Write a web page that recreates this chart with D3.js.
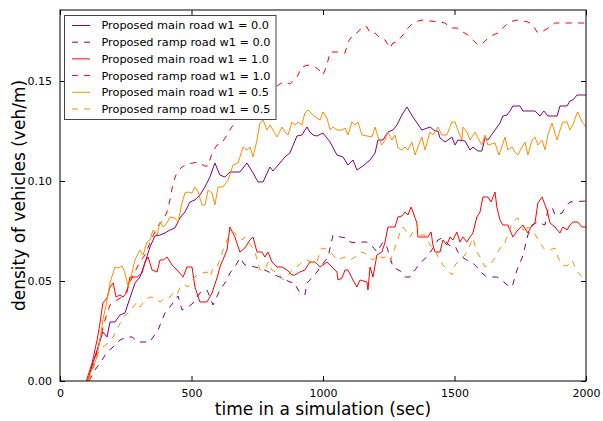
<!DOCTYPE html>
<html>
<head>
<meta charset="utf-8">
<script src="https://cdn.jsdelivr.net/npm/d3@7"></script>
<style>
  html, body { margin: 0; padding: 0; background: #fff; }
  svg { display: block; font-family: "DejaVu Sans", sans-serif; }
</style>
</head>
<body>
<svg id="chart" width="603" height="421"></svg>
<script>
// Vehicle density over simulation time: [time (sec), density (veh/m)]
const mainW00 = [[105,0.000],[125,0.009],[163,0.0245],[179,0.022],[190,0.0295],[209,0.0295],[228,0.033],[247,0.034],[266,0.0415],[285,0.049],[304,0.052],[323,0.059],[342,0.067],[361,0.0725],[380,0.073],[399,0.074],[418,0.0755],[437,0.0765],[456,0.0815],[475,0.0845],[494,0.0895],[513,0.0905],[532,0.093],[551,0.097],[570,0.102],[589,0.109],[608,0.103],[627,0.102],[646,0.1045],[684,0.1045],[711,0.109],[734,0.104],[753,0.0995],[772,0.0995],[798,0.107],[810,0.105],[836,0.109],[855,0.112],[874,0.114],[901,0.1225],[920,0.123],[939,0.127],[950,0.1245],[962,0.123],[977,0.1225],[1000,0.124],[1027,0.1195],[1053,0.113],[1076,0.112],[1095,0.108],[1114,0.1105],[1129,0.1055],[1152,0.1075],[1179,0.1105],[1198,0.114],[1209,0.1205],[1228,0.1205],[1247,0.1245],[1266,0.1255],[1281,0.128],[1300,0.133],[1319,0.137],[1342,0.132],[1376,0.1255],[1407,0.127],[1426,0.125],[1437,0.125],[1445,0.1215],[1464,0.1195],[1475,0.1205],[1490,0.122],[1502,0.118],[1513,0.1205],[1540,0.12],[1559,0.1155],[1570,0.117],[1589,0.115],[1604,0.115],[1616,0.1215],[1627,0.1205],[1646,0.124],[1673,0.129],[1684,0.1325],[1700,0.133],[1711,0.135],[1722,0.1375],[1749,0.1375],[1760,0.135],[1806,0.135],[1825,0.1325],[1840,0.135],[1855,0.1325],[1890,0.1325],[1901,0.1375],[1928,0.1375],[1939,0.14],[1950,0.1405],[1966,0.143],[2000,0.143]];

const rampW00 = [[110,0.000],[133,0.0055],[160,0.0105],[179,0.0145],[202,0.017],[228,0.0205],[255,0.022],[274,0.022],[297,0.0195],[342,0.0195],[354,0.022],[373,0.0255],[388,0.0305],[399,0.034],[418,0.037],[437,0.0405],[449,0.0425],[464,0.0355],[487,0.037],[506,0.039],[532,0.044],[559,0.0455],[582,0.038],[608,0.0455],[635,0.0505],[646,0.054],[665,0.057],[684,0.0615],[703,0.058],[741,0.057],[779,0.0555],[817,0.053],[844,0.0515],[874,0.0495],[893,0.049],[905,0.0455],[931,0.043],[939,0.049],[950,0.0505],[977,0.0545],[996,0.058],[1019,0.062],[1038,0.073],[1065,0.072],[1091,0.0715],[1103,0.0695],[1129,0.069],[1148,0.0695],[1167,0.0695],[1190,0.067],[1205,0.0645],[1228,0.0695],[1243,0.067],[1266,0.057],[1300,0.0545],[1312,0.052],[1331,0.052],[1350,0.0555],[1369,0.059],[1395,0.062],[1414,0.0655],[1437,0.0705],[1452,0.0715],[1483,0.0675],[1502,0.0675],[1513,0.0645],[1528,0.062],[1547,0.0605],[1566,0.0595],[1585,0.057],[1604,0.054],[1623,0.052],[1661,0.052],[1680,0.0505],[1700,0.048],[1719,0.047],[1730,0.052],[1741,0.057],[1757,0.0615],[1768,0.067],[1779,0.073],[1798,0.078],[1814,0.0795],[1844,0.078],[1855,0.0855],[1871,0.087],[1882,0.083],[1909,0.084],[1920,0.0865],[1939,0.0895],[2000,0.090]];

const mainW10 = [[100,0.000],[122,0.009],[141,0.0205],[152,0.029],[163,0.039],[179,0.0415],[190,0.047],[202,0.049],[213,0.042],[228,0.043],[240,0.042],[255,0.0445],[266,0.052],[293,0.052],[312,0.054],[323,0.0595],[335,0.062],[350,0.0555],[369,0.0545],[380,0.0605],[392,0.0605],[407,0.062],[426,0.058],[445,0.0555],[468,0.052],[483,0.057],[502,0.057],[513,0.047],[532,0.0395],[559,0.0395],[578,0.044],[597,0.0515],[608,0.057],[635,0.0655],[646,0.077],[665,0.072],[684,0.0645],[703,0.0665],[722,0.0705],[734,0.072],[749,0.0645],[768,0.0645],[779,0.062],[791,0.0645],[806,0.0595],[825,0.057],[844,0.057],[863,0.0555],[882,0.053],[893,0.053],[912,0.0545],[931,0.0555],[950,0.0595],[970,0.0595],[989,0.057],[1015,0.0595],[1034,0.057],[1053,0.0545],[1057,0.0505],[1072,0.0515],[1084,0.0555],[1095,0.0555],[1114,0.0505],[1129,0.047],[1141,0.0505],[1167,0.0495],[1171,0.0455],[1179,0.057],[1190,0.052],[1205,0.063],[1224,0.0645],[1236,0.0695],[1247,0.077],[1274,0.077],[1285,0.082],[1300,0.0825],[1312,0.0845],[1323,0.083],[1335,0.087],[1342,0.0845],[1357,0.079],[1361,0.072],[1399,0.072],[1411,0.0745],[1418,0.068],[1426,0.0645],[1445,0.0645],[1456,0.0705],[1471,0.068],[1483,0.072],[1494,0.0705],[1509,0.0745],[1521,0.0695],[1532,0.072],[1547,0.0695],[1559,0.072],[1570,0.074],[1585,0.082],[1597,0.0845],[1608,0.092],[1627,0.092],[1639,0.0895],[1654,0.0945],[1661,0.087],[1673,0.0805],[1684,0.078],[1703,0.078],[1722,0.072],[1741,0.0755],[1760,0.078],[1779,0.074],[1795,0.078],[1806,0.079],[1817,0.089],[1833,0.092],[1844,0.088],[1852,0.0855],[1863,0.079],[1882,0.077],[1901,0.074],[1912,0.077],[1928,0.0755],[1939,0.078],[1950,0.0795],[1969,0.0795],[1985,0.077],[2000,0.077]];

const rampW10 = [[105,0.000],[133,0.0105],[152,0.0205],[171,0.0305],[190,0.038],[217,0.0405],[236,0.042],[255,0.0455],[278,0.053],[304,0.0595],[323,0.063],[342,0.069],[369,0.077],[392,0.0805],[407,0.0845],[418,0.0905],[430,0.099],[445,0.1045],[464,0.107],[487,0.1085],[525,0.1095],[551,0.1075],[563,0.1075],[578,0.114],[597,0.118],[616,0.119],[639,0.124],[658,0.128],[684,0.133],[703,0.138],[722,0.143],[749,0.144],[768,0.1455],[787,0.143],[806,0.1455],[825,0.1475],[848,0.1495],[874,0.1485],[901,0.152],[920,0.157],[943,0.158],[970,0.157],[989,0.155],[1000,0.153],[1015,0.158],[1027,0.1645],[1065,0.1645],[1084,0.164],[1095,0.1695],[1114,0.173],[1133,0.1745],[1152,0.1775],[1167,0.177],[1179,0.174],[1198,0.174],[1217,0.1715],[1236,0.1705],[1255,0.1665],[1266,0.169],[1281,0.1695],[1304,0.173],[1323,0.1765],[1342,0.179],[1361,0.180],[1380,0.1805],[1407,0.180],[1445,0.1795],[1464,0.179],[1483,0.1765],[1509,0.1765],[1532,0.1745],[1551,0.173],[1570,0.1705],[1589,0.168],[1608,0.169],[1627,0.1715],[1646,0.173],[1665,0.174],[1684,0.1765],[1703,0.179],[1722,0.180],[1741,0.1805],[1779,0.1795],[1798,0.178],[1814,0.1745],[1825,0.174],[1844,0.1755],[1863,0.177],[1882,0.179],[2000,0.179]];

const mainW05 = [[105,0.000],[125,0.007],[141,0.012],[163,0.0305],[179,0.0405],[190,0.049],[209,0.057],[221,0.0565],[236,0.0575],[247,0.054],[259,0.047],[270,0.052],[285,0.0605],[304,0.0655],[316,0.063],[331,0.0695],[342,0.0705],[354,0.0755],[369,0.073],[380,0.0795],[392,0.077],[407,0.079],[418,0.082],[437,0.0815],[449,0.0795],[464,0.089],[475,0.094],[487,0.0945],[502,0.094],[513,0.097],[525,0.0945],[540,0.088],[551,0.088],[563,0.0955],[578,0.094],[589,0.088],[601,0.097],[620,0.097],[639,0.1005],[658,0.108],[677,0.109],[696,0.117],[711,0.1155],[722,0.117],[734,0.112],[749,0.1205],[760,0.129],[772,0.1305],[787,0.1255],[798,0.128],[810,0.1255],[825,0.122],[844,0.127],[855,0.1245],[867,0.123],[882,0.1295],[893,0.128],[905,0.1295],[920,0.128],[931,0.134],[943,0.1355],[962,0.133],[977,0.1315],[989,0.1305],[1000,0.1345],[1015,0.1315],[1027,0.1255],[1038,0.127],[1053,0.1255],[1072,0.1255],[1084,0.1265],[1095,0.123],[1110,0.1295],[1122,0.128],[1133,0.1295],[1148,0.123],[1186,0.122],[1198,0.127],[1209,0.122],[1224,0.118],[1236,0.1205],[1247,0.1245],[1262,0.1205],[1274,0.123],[1285,0.1165],[1300,0.1155],[1312,0.117],[1323,0.1155],[1338,0.1195],[1350,0.113],[1361,0.117],[1376,0.122],[1388,0.1155],[1407,0.1245],[1418,0.123],[1437,0.127],[1452,0.123],[1471,0.123],[1490,0.1295],[1502,0.1295],[1513,0.1255],[1528,0.1205],[1532,0.127],[1547,0.1245],[1559,0.1205],[1578,0.1245],[1589,0.1215],[1604,0.118],[1616,0.123],[1627,0.118],[1654,0.119],[1669,0.113],[1680,0.117],[1692,0.122],[1703,0.1155],[1719,0.117],[1730,0.1145],[1741,0.113],[1757,0.117],[1768,0.1195],[1779,0.113],[1795,0.1205],[1806,0.122],[1817,0.118],[1833,0.1205],[1844,0.1155],[1855,0.123],[1871,0.129],[1890,0.1205],[1901,0.1255],[1912,0.1295],[1928,0.1295],[1939,0.1255],[1950,0.128],[1966,0.134],[1969,0.1345],[1985,0.1295],[2000,0.127]];

const rampW05 = [[110,0.000],[133,0.009],[144,0.014],[163,0.017],[183,0.019],[202,0.022],[221,0.027],[240,0.032],[259,0.034],[278,0.037],[293,0.0395],[304,0.037],[323,0.0405],[342,0.042],[361,0.0415],[380,0.0395],[399,0.0415],[418,0.042],[430,0.044],[445,0.043],[456,0.047],[475,0.048],[487,0.047],[502,0.0505],[521,0.053],[540,0.054],[559,0.0545],[570,0.052],[582,0.0565],[597,0.057],[608,0.0605],[620,0.0655],[635,0.0705],[646,0.074],[658,0.0745],[673,0.073],[692,0.0705],[703,0.072],[715,0.0695],[730,0.067],[741,0.0645],[760,0.0555],[779,0.0555],[791,0.0595],[806,0.0555],[836,0.053],[848,0.0505],[863,0.052],[882,0.0555],[901,0.057],[920,0.0595],[939,0.0605],[958,0.0595],[977,0.059],[989,0.0655],[1000,0.0665],[1019,0.0655],[1038,0.063],[1053,0.0605],[1084,0.062],[1103,0.0605],[1122,0.062],[1141,0.0645],[1160,0.064],[1171,0.062],[1190,0.0605],[1209,0.063],[1224,0.0615],[1236,0.062],[1255,0.0595],[1266,0.064],[1281,0.0695],[1293,0.0745],[1304,0.077],[1319,0.0745],[1331,0.072],[1342,0.0745],[1357,0.078],[1369,0.073],[1388,0.073],[1407,0.068],[1426,0.065],[1445,0.0605],[1456,0.058],[1475,0.0555],[1490,0.053],[1502,0.058],[1521,0.0605],[1540,0.063],[1559,0.068],[1570,0.0715],[1585,0.0645],[1597,0.062],[1616,0.057],[1635,0.058],[1654,0.0615],[1673,0.0665],[1684,0.067],[1700,0.072],[1719,0.079],[1730,0.0805],[1741,0.0815],[1757,0.077],[1768,0.074],[1779,0.077],[1798,0.0755],[1814,0.0715],[1825,0.069],[1844,0.0655],[1863,0.0655],[1882,0.0665],[1893,0.062],[1909,0.058],[1928,0.0575],[1947,0.0605],[1958,0.057],[1969,0.0545],[1985,0.052],[2000,0.0505]];

const xTicks = [0, 500, 1000, 1500, 2000];
const yTicks = [0, 0.05, 0.10, 0.15];

const seriesList = [
  { label: "Proposed main road w1 = 0.0", data: mainW00, color: "#800080", dashed: false },
  { label: "Proposed ramp road w1 = 0.0", data: rampW00, color: "#800080", dashed: true },
  { label: "Proposed main road w1 = 1.0", data: mainW10, color: "#ff0000", dashed: false },
  { label: "Proposed ramp road w1 = 1.0", data: rampW10, color: "#ff0000", dashed: true },
  { label: "Proposed main road w1 = 0.5", data: mainW05, color: "#ff8c00", dashed: false },
  { label: "Proposed ramp road w1 = 0.5", data: rampW05, color: "#ff8c00", dashed: true }
];

const svg = d3.select("#chart");
const L = 60, R = 586, T = 10, B = 381;
const x = d3.scaleLinear().domain([0, 2000]).range([L, R]);
const y = d3.scaleLinear().domain([0, 0.1855]).range([B, T]);
const DASH = "6.2,6.2";

svg.append("defs").append("clipPath").attr("id", "plotClip")
  .append("rect").attr("x", L).attr("y", T).attr("width", R - L).attr("height", B - T);

const line = d3.line().x(d => x(d[0])).y(d => y(d[1]));

const plot = svg.append("g").attr("clip-path", "url(#plotClip)");
seriesList.forEach(s => {
  plot.append("path")
    .datum(s.data)
    .attr("d", line)
    .attr("fill", "none")
    .attr("stroke", s.color)
    .attr("stroke-width", 1)
    .attr("stroke-linejoin", "round")
    .attr("stroke-dasharray", s.dashed ? DASH : null);
});

// Axes with inward ticks on all four sides
const tickLen = 5;
const fmtY = d3.format(".2f");
const axBottom = d3.axisBottom(x).tickValues(xTicks).tickSizeInner(-tickLen).tickSizeOuter(0).tickPadding(8).tickFormat(d3.format("d"));
const axTop = d3.axisTop(x).tickValues(xTicks).tickSizeInner(-tickLen).tickSizeOuter(0).tickFormat("");
const axLeft = d3.axisLeft(y).tickValues(yTicks).tickSizeInner(-tickLen).tickSizeOuter(0).tickPadding(8).tickFormat(fmtY);
const axRight = d3.axisRight(y).tickValues(yTicks).tickSizeInner(-tickLen).tickSizeOuter(0).tickFormat("");

function styleAxis(g) {
  g.select(".domain").remove();
  g.selectAll("line").attr("stroke", "#000").attr("stroke-width", 1);
  g.selectAll("text").attr("fill", "#000").attr("font-size", "11px").attr("font-family", "DejaVu Sans, sans-serif");
}
svg.append("g").attr("transform", `translate(0,${B})`).call(axBottom).call(styleAxis);
svg.append("g").attr("transform", `translate(0,${T})`).call(axTop).call(styleAxis);
svg.append("g").attr("transform", `translate(${L},0)`).call(axLeft).call(styleAxis);
svg.append("g").attr("transform", `translate(${R},0)`).call(axRight).call(styleAxis);

// Frame
svg.append("rect").attr("x", L).attr("y", T).attr("width", R - L).attr("height", B - T)
  .attr("fill", "none").attr("stroke", "#000").attr("stroke-width", 1);

// Axis titles
svg.append("text").attr("x", (L + R) / 2).attr("y", 415)
  .attr("text-anchor", "middle").attr("font-size", "17px").attr("fill", "#000")
  .text("time in a simulation (sec)");
svg.append("text").attr("transform", `translate(25,${(T + B) / 2}) rotate(-90)`)
  .attr("text-anchor", "middle").attr("font-size", "17px").attr("fill", "#000")
  .text("density of vehicles (veh/m)");

// Legend
const lg = svg.append("g");
const lgX = 64.5, lgY = 15.5, lgW = 211.5, lgH = 104, rowH = 16.7;
lg.append("rect").attr("x", lgX).attr("y", lgY).attr("width", lgW).attr("height", lgH)
  .attr("fill", "#fff").attr("stroke", "#444").attr("stroke-width", 1);
seriesList.forEach((s, i) => {
  const cy = 25.5 + i * rowH;
  lg.append("line").attr("x1", 72).attr("x2", 90).attr("y1", cy).attr("y2", cy)
    .attr("stroke", s.color).attr("stroke-width", 1)
    .attr("stroke-dasharray", s.dashed ? "6,6" : null);
  lg.append("text").attr("x", 101.5).attr("y", cy).attr("dy", "0.35em")
    .attr("font-size", "11.3px").attr("fill", "#000").text(s.label);
});
</script>
</body>
</html>
